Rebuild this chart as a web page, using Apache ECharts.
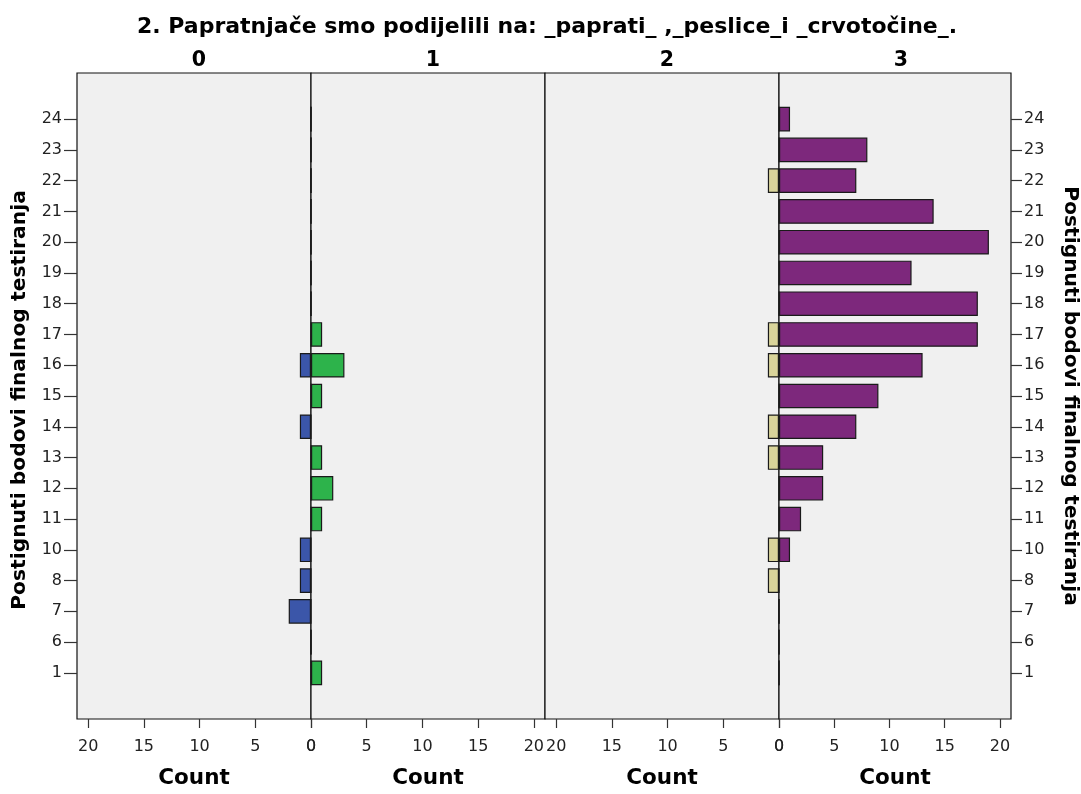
<!DOCTYPE html>
<html>
<head>
<meta charset="utf-8">
<script src="https://cdn.jsdelivr.net/npm/echarts@6/dist/echarts.min.js"></script>
<style>html,body{margin:0;padding:0;background:#fff;}#c{width:1081px;height:794px;}</style>
</head>
<body>
<div id="c"></div>
<script>
// Score categories (bottom to top)
const categories = ['1','6','7','8','10','11','12','13','14','15','16','17','18','19','20','21','22','23','24'];
const panelLabels = ['0','1','2','3'];
// Counts per panel, aligned with categories
const panel0 = [0,0,2,1,1,0,0,0,1,0,1,0,0,0,0,0,0,0,0];
const panel1 = [1,0,0,0,0,1,2,1,0,1,3,1,0,0,0,0,0,0,0];
const panel2 = [0,0,0,1,1,0,0,1,1,0,1,1,0,0,0,0,1,0,0];
const panel3 = [0,0,0,0,1,2,4,4,7,9,13,18,18,12,19,14,7,8,1];
const xTicks = [0,5,10,15,20];
const title = '2. Papratnjače smo podijelili na: _paprati_ ,_peslice_i _crvotočine_.';
const yName = 'Postignuti bodovi finalnog testiranja';

const panels = [panel0, panel1, panel2, panel3];
const colors = ['#3B56A9','#2DB34B','#D9D49A','#7D287C'];
const cats = [''].concat(categories).concat(['']);
const pad = arr => [null].concat(arr).concat([null]);

const FONT = 'DejaVu Sans, sans-serif';
const L = 77, W = 234, T = 73, H = 649;

const grids = [], xAxes = [], yAxes = [], series = [], titles = [];
titles.push({text: title, left: 542, top: 11, textAlign: 'center',
  textStyle: {fontFamily: FONT, fontWeight: 'bold', fontSize: 22, color: '#000'}});
for (let i = 0; i < 4; i++) {
  grids.push({left: L + i*W, top: T, width: W, height: H, show: true,
    backgroundColor: '#F0F0F0', borderColor: '#111', borderWidth: 1.2, containLabel: false});
  titles.push({text: panelLabels[i], left: L + i*W + W/2, top: 45, textAlign: 'center',
    textStyle: {fontFamily: FONT, fontWeight: 'bold', fontSize: 20.5, color: '#000'}});
  const rev = (i === 0 || i === 2);
  xAxes.push({type: 'value', gridIndex: i, min: 0, max: 21, inverse: rev, position: 'bottom',
    name: 'Count', nameLocation: 'middle', nameGap: 48,
    nameTextStyle: {fontFamily: FONT, fontWeight: 'bold', fontSize: 21.5, color: '#000'},
    axisLine: {show: false},
    axisTick: {show: true, inside: false, length: 9, lineStyle: {color: '#333', width: 1.2}, customValues: xTicks},
    axisLabel: {fontFamily: FONT, fontSize: 16, color: '#222', margin: 20, customValues: xTicks},
    splitLine: {show: false}});
  const y = {type: 'category', gridIndex: i, data: cats, boundaryGap: true,
    axisLine: {show: false, onZero: false},
    splitLine: {show: false}};
  if (i === 0 || i === 3) {
    y.position = i === 0 ? 'left' : 'right';
    y.name = yName; y.nameLocation = 'middle';
    y.nameGap = i === 0 ? 47 : 49;
    y.nameRotate = i === 0 ? 90 : -90;
    y.nameTextStyle = {fontFamily: FONT, fontWeight: 'bold', fontSize: 20.3, color: '#000',
      padding: i === 0 ? [0, 8, 0, 0] : [0, 0, 0, 0]};
    y.axisTick = {show: true, alignWithLabel: true, length: i === 0 ? 13 : 11,
      lineStyle: {color: '#333', width: 1.2}, interval: (idx, v) => v !== ''};
    y.axisLabel = {fontFamily: FONT, fontSize: 16, color: '#222', margin: i === 0 ? 15 : 13, interval: 0};
  } else {
    y.axisTick = {show: false}; y.axisLabel = {show: false};
  }
  yAxes.push(y);
  series.push({type: 'bar', xAxisIndex: i, yAxisIndex: i, data: pad(panels[i]),
    barWidth: '80%', silent: true,
    itemStyle: {color: colors[i], borderColor: '#1a1a1a', borderWidth: 1.2}});
}

const chart = echarts.init(document.getElementById('c'), null, {renderer: 'canvas'});
chart.setOption({animation: false, backgroundColor: '#fff', title: titles,
  grid: grids, xAxis: xAxes, yAxis: yAxes, series: series});
</script>
</body>
</html>
